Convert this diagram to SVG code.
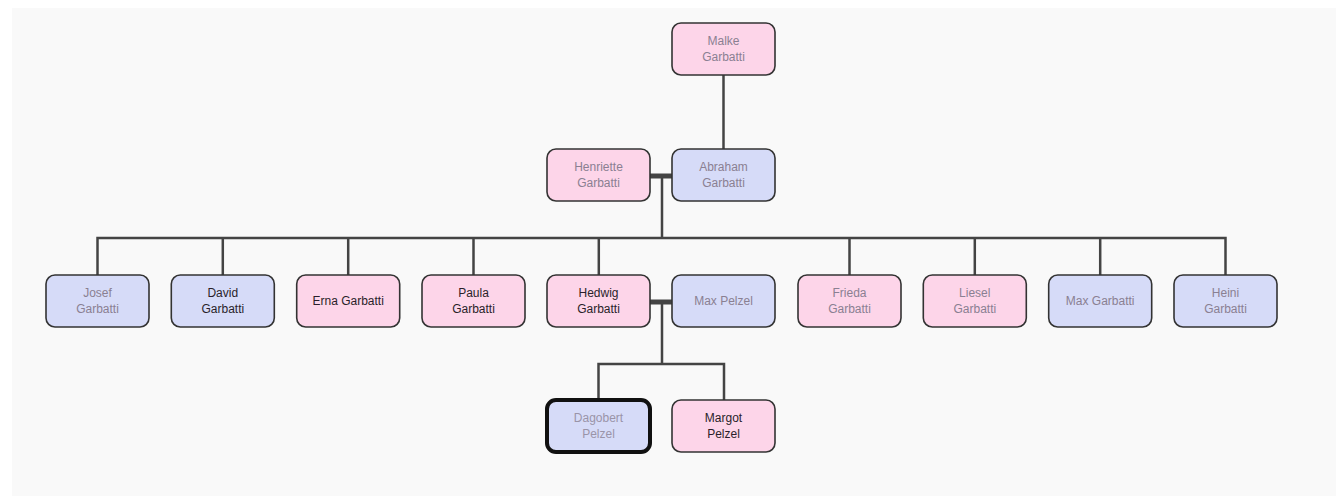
<svg xmlns="http://www.w3.org/2000/svg" width="1336" height="496" viewBox="0 0 1336 496">
<style>
.n rect{stroke:#333;stroke-width:1.6}
.f rect{fill:#fdd5e9}
.m rect{fill:#d6dbf8}
text{font-family:"Liberation Sans",Arial,sans-serif;font-size:12px;text-anchor:middle}
.g text{fill:#8a8092}
.d text{fill:#2a1f2a}
.c{stroke:#444;stroke-width:2.5;fill:none}
.cp{stroke:#444;stroke-width:5;fill:none}
</style>
<rect x="12" y="8" width="1324" height="488" fill="#f9f9f9"/>
<g id="connectors">
<path class="c" d="M723.5 75V149"/>
<path class="cp" d="M650 176H672"/>
<path class="c" d="M662 176V238M97.5 275V238H1225.5V275M222.8 238V275M348.2 238V275M473.5 238V275M598.8 238V275M849.5 238V275M974.8 238V275M1100.2 238V275"/>
<path class="cp" d="M650 302H672"/>
<path class="c" d="M662 302V364M598.5 400V364H724V400"/>
</g>
<g id="malke" class="n f g"><rect x="672" y="23" width="103" height="52" rx="9"/><text x="723.5" y="45">Malke</text><text x="723.5" y="61">Garbatti</text></g>
<g id="henriette" class="n f g"><rect x="547" y="149" width="103" height="52" rx="9"/><text x="598.5" y="171">Henriette</text><text x="598.5" y="187">Garbatti</text></g>
<g id="abraham" class="n m g"><rect x="672" y="149" width="103" height="52" rx="9"/><text x="723.5" y="171">Abraham</text><text x="723.5" y="187">Garbatti</text></g>
<g id="josef" class="n m g"><rect x="46" y="275" width="103" height="52" rx="9"/><text x="97.5" y="297">Josef</text><text x="97.5" y="313">Garbatti</text></g>
<g id="david" class="n m d"><rect x="171.3" y="275" width="103" height="52" rx="9"/><text x="222.8" y="297">David</text><text x="222.8" y="313">Garbatti</text></g>
<g id="erna" class="n f d"><rect x="296.7" y="275" width="103" height="52" rx="9"/><text x="348.2" y="305">Erna Garbatti</text></g>
<g id="paula" class="n f d"><rect x="422" y="275" width="103" height="52" rx="9"/><text x="473.5" y="297">Paula</text><text x="473.5" y="313">Garbatti</text></g>
<g id="hedwig" class="n f d"><rect x="547" y="275" width="103" height="52" rx="9"/><text x="598.5" y="297">Hedwig</text><text x="598.5" y="313">Garbatti</text></g>
<g id="maxpelzel" class="n m g"><rect x="672" y="275" width="103" height="52" rx="9"/><text x="723.5" y="305">Max Pelzel</text></g>
<g id="frieda" class="n f g"><rect x="798" y="275" width="103" height="52" rx="9"/><text x="849.5" y="297">Frieda</text><text x="849.5" y="313">Garbatti</text></g>
<g id="liesel" class="n f g"><rect x="923.3" y="275" width="103" height="52" rx="9"/><text x="974.8" y="297">Liesel</text><text x="974.8" y="313">Garbatti</text></g>
<g id="maxgarbatti" class="n m g"><rect x="1048.7" y="275" width="103" height="52" rx="9"/><text x="1100.2" y="305">Max Garbatti</text></g>
<g id="heini" class="n m g"><rect x="1174" y="275" width="103" height="52" rx="9"/><text x="1225.5" y="297">Heini</text><text x="1225.5" y="313">Garbatti</text></g>
<g id="dagobert" class="n m"><rect x="547" y="400" width="103" height="52" rx="9" style="stroke:#111;stroke-width:4"/><text x="598.5" y="422" fill="#9a94a8">Dagobert</text><text x="598.5" y="438" fill="#9a94a8">Pelzel</text></g>
<g id="margot" class="n f d"><rect x="672" y="400" width="103" height="52" rx="9"/><text x="723.5" y="422">Margot</text><text x="723.5" y="438">Pelzel</text></g>
</svg>
